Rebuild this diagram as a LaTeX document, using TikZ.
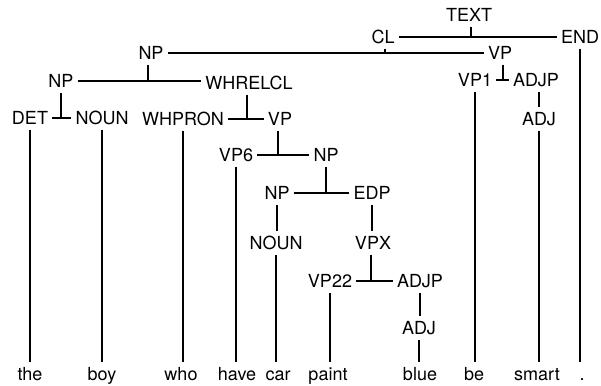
\documentclass[tikz,border=0pt]{standalone}
\usepackage{fontspec}
\setmainfont{TeX Gyre Heros}
\begin{document}
\begin{tikzpicture}[x=1pt,y=-1pt,
  lab/.style={font=\fontsize{18}{18}\selectfont, inner sep=0pt, text height=12.9pt, text depth=0pt, anchor=center},
  word/.style={font=\fontsize{18}{18}\selectfont, inner sep=0pt, text height=13pt, text depth=4pt, anchor=base},
  ln/.style={line width=1.5pt},
  sib/.style={ln, shorten <=4pt, shorten >=4pt},
  stem/.style={ln, shorten <=5pt},
  vert/.style={ln, shorten <=5pt, shorten >=5pt}
]
\useasboundingbox (0,0) rectangle (601,385);
% labels
\node[lab] (text) at (469,15) {TEXT};
\node[lab] (cl) at (383,37) {CL};
\node[lab] (end) at (580,37) {END};
\node[lab] (npa) at (151,53) {NP};
\node[lab] (vpa) at (500,53) {VP};
\node[lab] (npb) at (61,81) {NP};
\node[lab] (whrelcl) at (249,83) {WHRELCL};
\node[lab] (vp1) at (475,80) {VP1};
\node[lab] (adjpa) at (536,80) {ADJP};
\node[lab] (det) at (30,118) {DET};
\node[lab] (nouna) at (102,118) {NOUN};
\node[lab] (whpron) at (183,119) {WHPRON};
\node[lab] (vpb) at (280,119) {VP};
\node[lab] (adja) at (539,119) {ADJ};
\node[lab] (vp6) at (236,155) {VP6};
\node[lab] (npc) at (326,155) {NP};
\node[lab] (npd) at (277,193) {NP};
\node[lab] (edp) at (372,193) {EDP};
\node[lab] (nounb) at (276,243) {NOUN};
\node[lab] (vpx) at (373,243) {VPX};
\node[lab] (vp22) at (330,281) {VP22};
\node[lab] (adjpb) at (420,281) {ADJP};
\node[lab] (adjb) at (419,328) {ADJ};
% words
\node[word] (the) at (30,380) {the};
\node[word] (boy) at (102,380) {boy};
\node[word] (who) at (181,380) {who};
\node[word] (have) at (237,380) {have};
\node[word] (car) at (278,380) {car};
\node[word] (paint) at (328,380) {paint};
\node[word] (blue) at (420,380) {blue};
\node[word] (be) at (474,380) {be};
\node[word] (smart) at (537,380) {smart};
\node[word] (dot) at (582,380) {.};
% TEXT -> CL END
\draw[sib] (cl.east) -- (end.west |- cl.east);
\draw[stem] ([xshift=2pt]text.south) -- ([xshift=2pt]text.south |- cl.east);
% CL -> NP VP
\draw[sib] (npa.east) -- (vpa.west |- npa.east);
\draw[stem] ([xshift=2pt]cl.south) -- ([xshift=2pt]cl.south |- npa.east);
% NP -> NP WHRELCL
\draw[sib] (npb.east) -- (whrelcl.west |- npb.east);
\draw[stem] ([xshift=-3pt]npa.south) -- ([xshift=-3pt]npa.south |- npb.east);
% VP -> VP1 ADJP
\draw[sib] (vp1.east) -- (adjpa.west |- vp1.east);
\draw[stem] ([xshift=3pt]vpa.south) -- ([xshift=3pt]vpa.south |- vp1.east);
% NP -> DET NOUN
\draw[sib] (det.east) -- (nouna.west |- det.east);
\draw[stem] (npb.south) -- (npb.south |- det.east);
% WHRELCL -> WHPRON VP
\draw[sib] (whpron.east) -- (vpb.west |- whpron.east);
\draw[stem] ([xshift=-2pt]whrelcl.south) -- ([xshift=-2pt]whrelcl.south |- whpron.east);
% ADJP -> ADJ
\draw[vert] (adjpa.south -| adja.south) -- (adja.north);
% VP -> VP6 NP
\draw[sib] (vp6.east) -- (npc.west |- vp6.east);
\draw[stem] ([xshift=-2pt]vpb.south) -- ([xshift=-2pt]vpb.south |- vp6.east);
% NP -> NP EDP
\draw[sib] (npd.east) -- (edp.west |- npd.east);
\draw[stem] (npc.south) -- (npc.south |- npd.east);
% NP -> NOUN, EDP -> VPX
\draw[vert] (npd.south) -- (npd.south |- nounb.north);
\draw[vert] (edp.south) -- (edp.south |- vpx.north);
% VPX -> VP22 ADJP
\draw[sib] (vp22.east) -- (adjpb.west |- vp22.east);
\draw[stem] ([xshift=-2pt]vpx.south) -- ([xshift=-2pt]vpx.south |- vp22.east);
% ADJP -> ADJ
\draw[vert] (adjpb.south) -- (adjpb.south |- adjb.north);
% leaves
\draw[vert] (det.south) -- (det.south |- the.north);
\draw[vert] (nouna.south) -- (nouna.south |- boy.north);
\draw[vert] (whpron.south) -- (whpron.south |- who.north);
\draw[vert] (vp6.south) -- (vp6.south |- have.north);
\draw[vert] (nounb.south) -- (nounb.south |- car.north);
\draw[vert] (vp22.south) -- (vp22.south |- paint.north);
\draw[vert] (adjb.south) -- (adjb.south |- blue.north);
\draw[vert] (vp1.south) -- (vp1.south |- be.north);
\draw[vert] (adja.south) -- (adja.south |- smart.north);
\draw[vert] (end.south) -- (end.south |- dot.north);
\end{tikzpicture}
\end{document}
